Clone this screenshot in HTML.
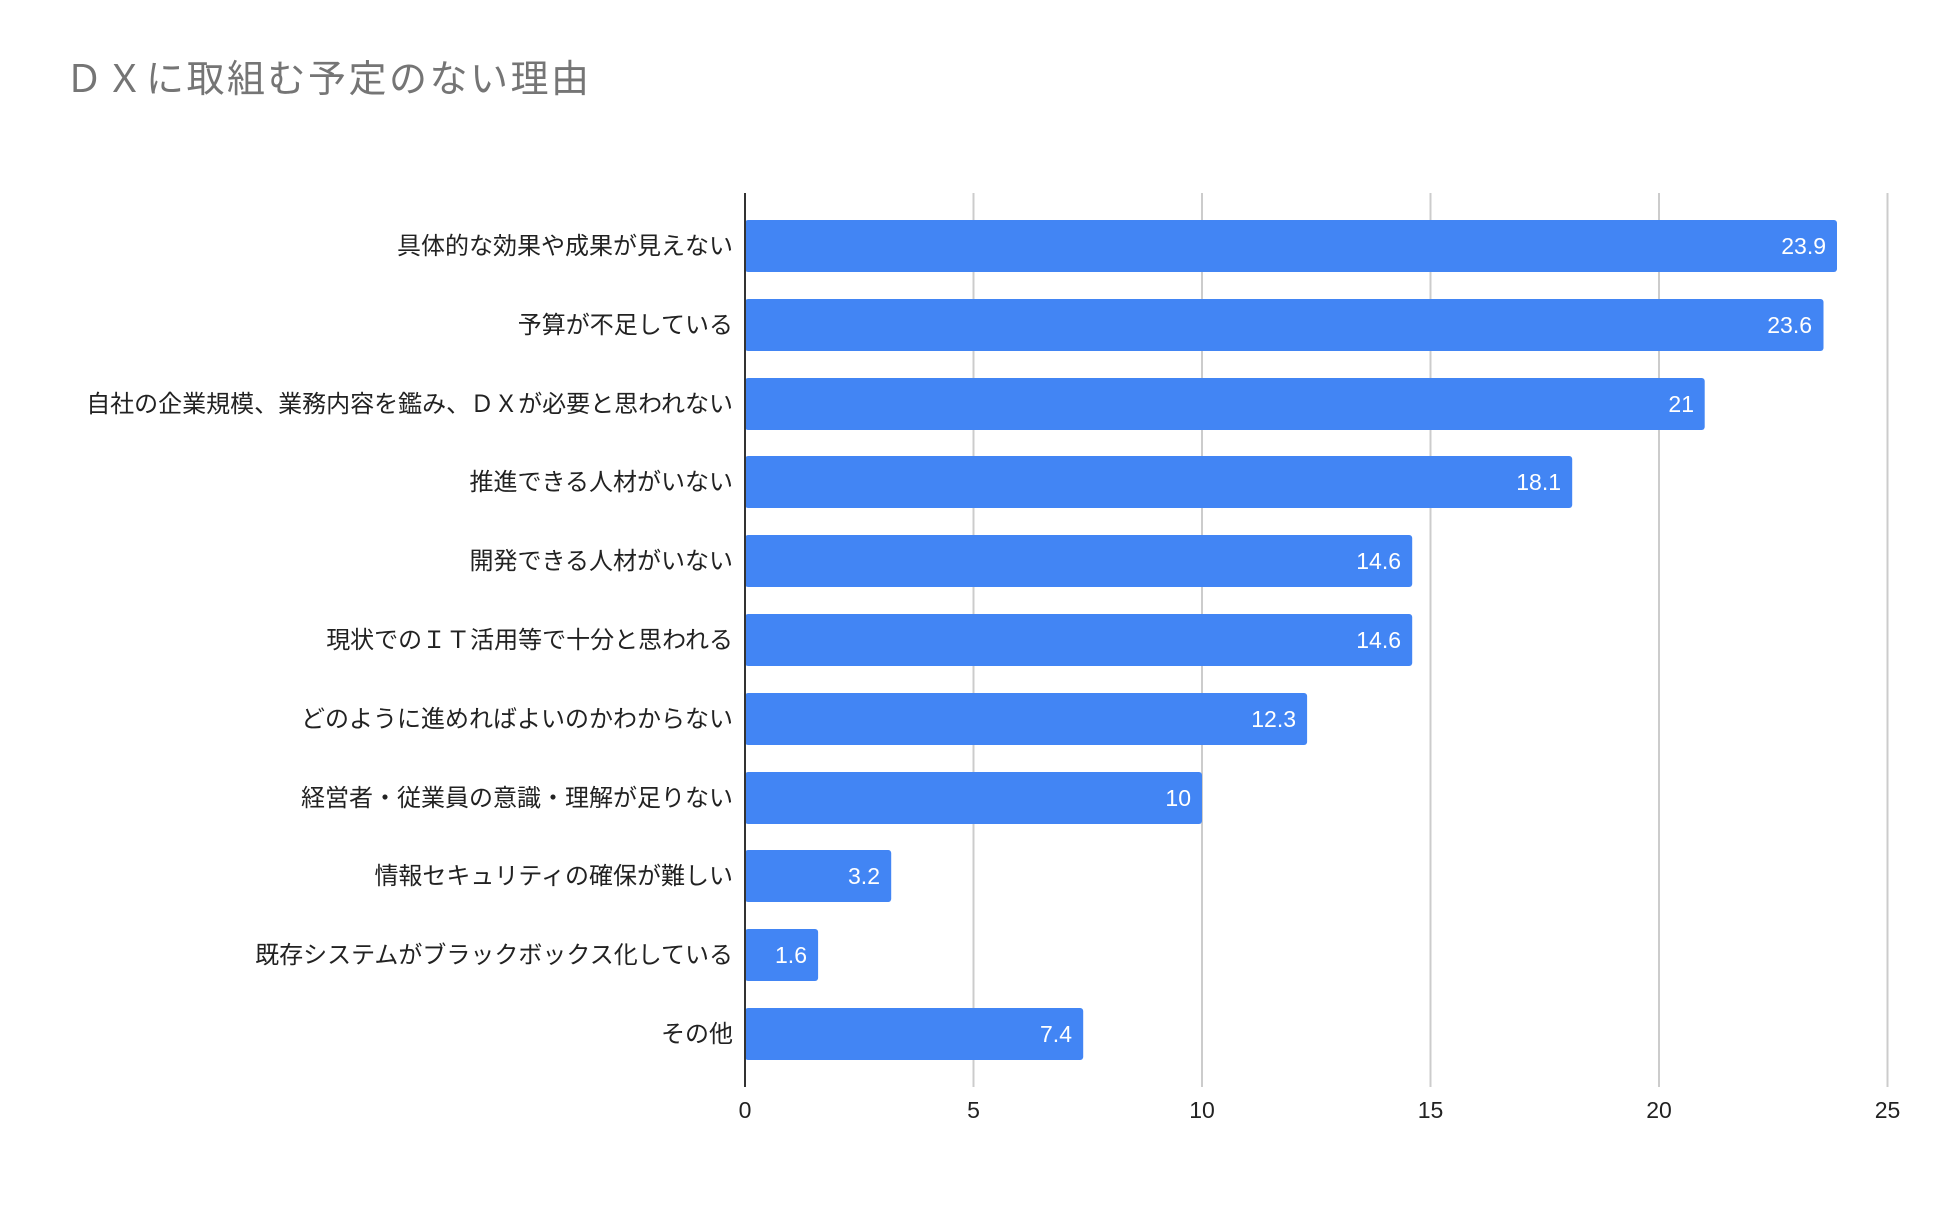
<!DOCTYPE html>
<html><head><meta charset="utf-8"><style>
html,body{margin:0;padding:0;background:#fff;width:1948px;height:1206px;overflow:hidden}
svg text{font-family:"Liberation Sans","Noto Sans CJK JP",sans-serif}
</style></head><body>
<svg width="1948" height="1206" viewBox="0 0 1948 1206" xmlns="http://www.w3.org/2000/svg">
<text x="65" y="92" font-size="38" fill="#757575" letter-spacing="2.5">ＤＸに取組む予定のない理由</text>
<g stroke="#cccccc" stroke-width="2">
<line x1="973.5" y1="193" x2="973.5" y2="1087"/>
<line x1="1202" y1="193" x2="1202" y2="1087"/>
<line x1="1430.5" y1="193" x2="1430.5" y2="1087"/>
<line x1="1659" y1="193" x2="1659" y2="1087"/>
<line x1="1887.5" y1="193" x2="1887.5" y2="1087"/>
</g>
<g fill="#4285f4">
<rect x="745" y="220" width="1092" height="52" rx="3"/>
<rect x="745" y="299" width="1078.5" height="52" rx="3"/>
<rect x="745" y="378" width="959.7" height="52" rx="3"/>
<rect x="745" y="456" width="827.2" height="52" rx="3"/>
<rect x="745" y="535" width="667.2" height="52" rx="3"/>
<rect x="745" y="614" width="667.2" height="52" rx="3"/>
<rect x="745" y="693" width="562.1" height="52" rx="3"/>
<rect x="745" y="772" width="457" height="52" rx="3"/>
<rect x="745" y="850" width="146.2" height="52" rx="3"/>
<rect x="745" y="929" width="73.1" height="52" rx="3"/>
<rect x="745" y="1008" width="338.2" height="52" rx="3"/>
</g>
<line x1="745" y1="193" x2="745" y2="1087" stroke="#333" stroke-width="2"/>
<g font-size="23" fill="#fff" text-anchor="end">
<text x="1826" y="254">23.9</text>
<text x="1812" y="333">23.6</text>
<text x="1694" y="412">21</text>
<text x="1561" y="490">18.1</text>
<text x="1401" y="569">14.6</text>
<text x="1401" y="648">14.6</text>
<text x="1296" y="727">12.3</text>
<text x="1191" y="806">10</text>
<text x="880" y="884">3.2</text>
<text x="807" y="963">1.6</text>
<text x="1072" y="1042">7.4</text>
</g>
<g font-size="24" fill="#222" text-anchor="end">
<text x="733" y="254">具体的な効果や成果が見えない</text>
<text x="733" y="333">予算が不足している</text>
<text x="733" y="412">自社の企業規模、業務内容を鑑み、ＤＸが必要と思われない</text>
<text x="733" y="490">推進できる人材がいない</text>
<text x="733" y="569">開発できる人材がいない</text>
<text x="733" y="648">現状でのＩＴ活用等で十分と思われる</text>
<text x="733" y="727">どのように進めればよいのかわからない</text>
<text x="733" y="806">経営者・従業員の意識・理解が足りない</text>
<text x="733" y="884">情報セキュリティの確保が難しい</text>
<text x="733" y="963">既存システムがブラックボックス化している</text>
<text x="733" y="1042">その他</text>
</g>
<g font-size="23" fill="#222" text-anchor="middle">
<text x="745" y="1118">0</text>
<text x="973.5" y="1118">5</text>
<text x="1202" y="1118">10</text>
<text x="1430.5" y="1118">15</text>
<text x="1659" y="1118">20</text>
<text x="1887.5" y="1118">25</text>
</g>
</svg>
</body></html>
